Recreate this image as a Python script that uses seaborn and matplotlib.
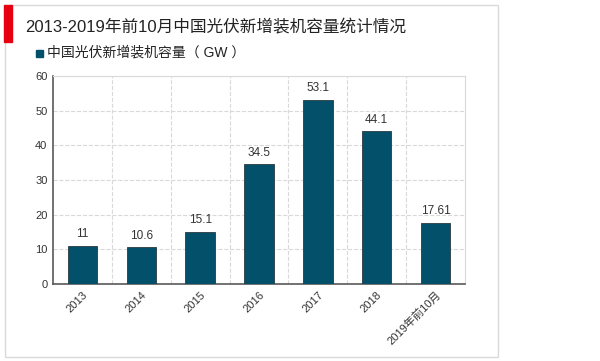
import pandas as pd
import seaborn as sns
import matplotlib.pyplot as plt
from matplotlib.patches import Rectangle

years = ['2013', '2014', '2015', '2016', '2017', '2018', '2019年前10月']
capacity = [11, 10.6, 15.1, 34.5, 53.1, 44.1, 17.61]
labels = ['11', '10.6', '15.1', '34.5', '53.1', '44.1', '17.61']

df = pd.DataFrame({'year': years, 'capacity': capacity})

sns.set_theme(style='white')
plt.rcParams['font.family'] = ['Liberation Sans', 'Noto Sans CJK SC', 'DejaVu Sans']

bar_color = '#03506B'
W, H = 600, 361

fig = plt.figure(figsize=(6, 3.61), dpi=100)
ax = fig.add_axes([53 / W, 1 - 284 / H, (465 - 53) / W, (284 - 76) / H])

sns.barplot(data=df, x='year', y='capacity', color=bar_color, width=0.5,
            saturation=1, ax=ax, zorder=3)

for p in ax.patches:
    p.set_edgecolor('#2a3a40')
    p.set_linewidth(0.6)

ax.bar_label(ax.containers[0], labels=labels, padding=4, fontsize=8.5, color='#333333')

ax.set_xlim(-0.5, len(years) - 0.5)
ax.set_ylim(0, 60)
ax.set_yticks(range(0, 61, 10))
ax.set_xticks([i + 0.5 for i in range(len(years))], minor=True)
ax.grid(axis='y', which='major', linestyle='--', color='#d9d9d9', linewidth=0.8, zorder=0)
ax.grid(axis='x', which='minor', linestyle='--', color='#d9d9d9', linewidth=0.8, zorder=0)
ax.tick_params(axis='x', which='minor', length=0)
ax.tick_params(axis='both', which='major', length=0, labelsize=8, colors='#333333', pad=4)
plt.setp(ax.get_xticklabels(), rotation=45, ha='right', rotation_mode='anchor')
ax.set_xlabel('')
ax.set_ylabel('')

for side in ['top', 'right']:
    ax.spines[side].set_color('#d9d9d9')
    ax.spines[side].set_linewidth(0.8)
for side in ['left', 'bottom']:
    ax.spines[side].set_color('#595959')
    ax.spines[side].set_linewidth(1.2)

# outer frame, red marker and title
fig.patches.append(Rectangle((5 / W, 1 - 357 / H), (498 - 5) / W, (357 - 5) / H,
                             transform=fig.transFigure, fill=False,
                             edgecolor='#d9d9d9', linewidth=1))
fig.patches.append(Rectangle((4 / W, 1 - 42 / H), 8 / W, 37 / H,
                             transform=fig.transFigure, color='#e60012'))
fig.text(25 / W, 1 - 27 / H, '2013-2019年前10月中国光伏新增装机容量统计情况',
         fontsize=12, va='center', ha='left', color='#222222')

# legend
fig.patches.append(Rectangle((36 / W, 1 - 57 / H), 7 / W, 7 / H,
                             transform=fig.transFigure, color=bar_color))
fig.text(47 / W, 1 - 53 / H, '中国光伏新增装机容量（ GW ）',
         fontsize=10, va='center', ha='left', color='#222222')

fig.savefig('out.png', dpi=100)
